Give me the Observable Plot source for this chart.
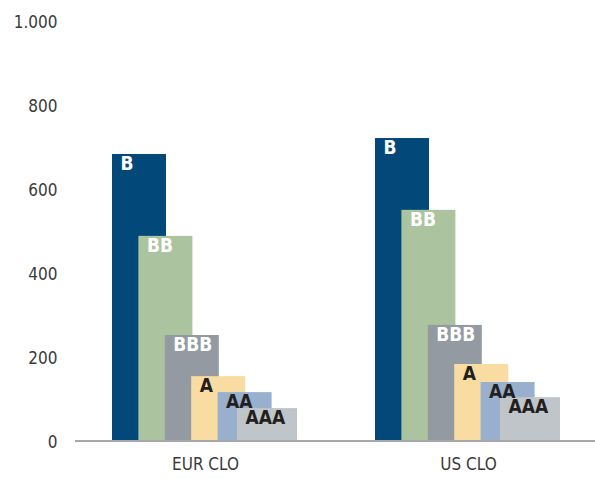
<!DOCTYPE html>
<html>
<head>
<meta charset="utf-8">
<script src="https://cdn.jsdelivr.net/npm/d3@7"></script>
<script src="https://cdn.jsdelivr.net/npm/@observablehq/plot@0.6"></script>
<style>
  html, body { margin: 0; padding: 0; background: #fff; }
  #chart svg { display: block; }
</style>
</head>
<body>
<div id="chart"></div>
<script>
// ---- data ----
const groups = ["EUR CLO", "US CLO"];
const ratings = ["B", "BB", "BBB", "A", "AA", "AAA"];
const eurValues = [681, 486, 250, 152, 114, 76];
const usValues = [719, 548, 274, 181, 138, 102];
const yTicks = [0, 200, 400, 600, 800, 1000];
const yTickLabels = ["0", "200", "400", "600", "800", "1.000"];

// ---- styles ----
const colors = ["#02497a", "#abc49f", "#939aa1", "#f8dca1", "#98b0ce", "#c0c5c9"];
const labelColors = ["#ffffff", "#ffffff", "#ffffff", "#231f20", "#231f20", "#231f20"];
const FONT = "'Liberation Sans Narrow', 'DejaVu Sans Condensed', 'Open Sans', sans-serif";

// ---- layout (horizontal units in the x scale) ----
const groupStart = [37, 300];
const groupSpan = 186;
const ratingOffset = [0, 26.4, 52.8, 79.2, 105.6, 125];
const barWidth = [54, 54, 54, 54, 54, 60];

const seriesValues = [eurValues, usValues];
const rows = [];
groups.forEach((g, gi) => {
  ratings.forEach((r, ri) => {
    const x1 = groupStart[gi] + ratingOffset[ri];
    rows.push({group: g, rating: r, ri, value: seriesValues[gi][ri], x1, x2: x1 + barWidth[ri]});
  });
});
const groupCenters = groups.map((g, gi) => groupStart[gi] + groupSpan / 2);

const chart = Plot.plot({
  width: 595,
  height: 479,
  marginLeft: 75,
  marginRight: 0,
  marginTop: 20,
  marginBottom: 39,
  style: {fontFamily: FONT, fontSize: "17px", color: "#3a3a3a", background: "#fff"},
  x: {type: "linear", domain: [0, 520], axis: null},
  y: {domain: [0, 1000], axis: null},
  marks: [
    Plot.rectY(rows, {
      x1: "x1", x2: "x2", y1: 0, y2: "value",
      fill: d => colors[d.ri]
    }),
    Plot.ruleY([0], {stroke: "#a7a8aa", strokeWidth: 2.2, dy: 0.5}),
    Plot.text(rows, {
      x: "x1", y: "value", text: "rating",
      textAnchor: "start", lineAnchor: "top",
      dx: 8, dy: 2,
      fill: d => labelColors[d.ri],
      fontSize: 19, fontWeight: "bold"
    }),
    Plot.axisY(yTicks, {
      tickSize: 0, tickPadding: 18, dy: 2, label: null,
      tickFormat: (d) => yTickLabels[yTicks.indexOf(d)],
      fontSize: 17, fill: "#3a3a3a"
    }),
    Plot.axisX(groupCenters, {
      tickSize: 0, tickPadding: 17, label: null,
      tickFormat: (d) => groups[groupCenters.indexOf(d)],
      fontSize: 17, fill: "#3a3a3a"
    })
  ]
});
document.getElementById("chart").appendChild(chart);
</script>
</body>
</html>
